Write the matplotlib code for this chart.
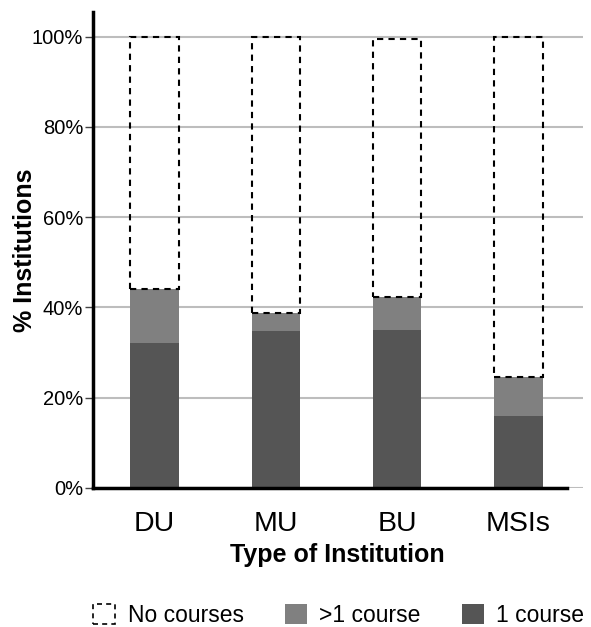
import matplotlib
matplotlib.use("Agg")
import matplotlib.pyplot as plt
from matplotlib.patches import Patch
import numpy as np

plt.rcParams['font.family'] = ['Liberation Sans', 'DejaVu Sans']

# data (% of institutions)
groups = ['DU', 'MU', 'BU', 'MSIs']
one_course = [32.0, 34.7, 35.0, 16.0]
more_course = [12.0, 4.0, 7.4, 8.6]
no_course = [56.0, 61.3, 57.1, 75.4]
yticks = [0, 20, 40, 60, 80, 100]

dark = '#555555'
light = '#808080'

fig = plt.figure(figsize=(5.91, 6.27), dpi=100)
ax = fig.add_axes([0.157, 0.222, 0.829, 0.759])

x = np.arange(len(groups))
w = 0.4
one = np.array(one_course)
more = np.array(more_course)
ax.bar(x, one, w, color=dark, zorder=2)
ax.bar(x, more, w, bottom=one, color=light, zorder=2)
ax.bar(x, no_course, w, bottom=one + more, facecolor='none', edgecolor='black',
       linestyle=(0, (3, 2.5)), linewidth=1.5, zorder=3)

ax.set_xlim(-0.51, 3.53)
ax.set_ylim(0, 105.5)
ax.set_yticks(yticks)
ax.set_yticklabels([f'{v}%' for v in yticks], fontsize=14.5)
ax.yaxis.grid(True, color='#bdbdbd', linewidth=1.5, zorder=0)
ax.set_axisbelow(True)

ax.set_xticks(x)
ax.set_xticklabels(groups, fontsize=20.5)
ax.tick_params(axis='x', length=0, pad=17)
ax.tick_params(axis='y', length=6, width=1, color='#444444', pad=1)

for s in ['top', 'right']:
    ax.spines[s].set_visible(False)
ax.spines['left'].set_linewidth(2.5)
ax.spines['bottom'].set_linewidth(2.5)
ax.spines['bottom'].set_bounds(-0.51, 3.40)

ax.set_ylabel('% Institutions', fontsize=18, fontweight='bold')
ax.yaxis.set_label_coords(-0.114, 0.5)
ax.set_xlabel('Type of Institution', fontsize=18, fontweight='bold', labelpad=4)

handles = [
    Patch(facecolor='none', edgecolor='black', linestyle=(0, (3, 2.5)), linewidth=1.2, label='No courses'),
    Patch(facecolor=light, label='>1 course'),
    Patch(facecolor=dark, label='1 course'),
]
fig.legend(handles=handles, loc='center', bbox_to_anchor=(0.573, 0.018), ncol=3,
           frameon=False, fontsize=16.5, handlelength=0.95, handleheight=0.95,
           columnspacing=1.8, handletextpad=0.55, borderpad=0.2)

fig.savefig('out.png', dpi=100)
